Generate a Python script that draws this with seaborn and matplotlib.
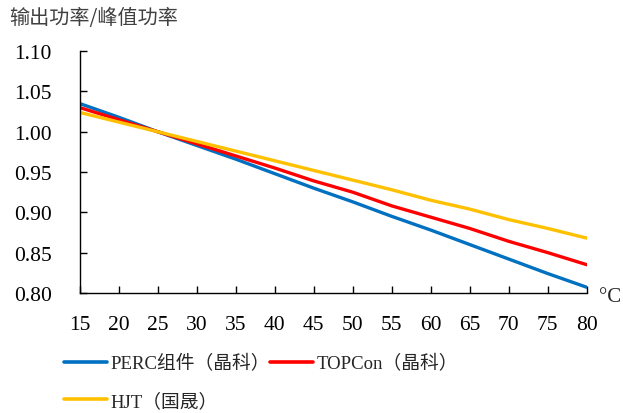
import numpy as np
import pandas as pd
import matplotlib
matplotlib.use('Agg')
import matplotlib.pyplot as plt
import seaborn as sns

## Data
temps   = [15, 20, 25, 30, 35, 40, 45, 50, 55, 60, 65, 70, 75, 80]
perc    = [1.035, 1.018, 1.000, 0.983, 0.966, 0.948, 0.930, 0.913, 0.895, 0.878, 0.860, 0.842, 0.824, 0.807]
topcon  = [1.030, 1.015, 1.000, 0.985, 0.970, 0.955, 0.939, 0.925, 0.908, 0.894, 0.880, 0.864, 0.850, 0.835]
hjt     = [1.024, 1.012, 1.000, 0.988, 0.976, 0.964, 0.952, 0.940, 0.928, 0.915, 0.904, 0.891, 0.880, 0.868]
labels  = ['PERC组件（晶科）', 'TOPCon（晶科）', 'HJT（国晟）']
colors  = ['#0070C0', '#FF0000', '#FFC000']
xticks  = list(range(15, 85, 5))
yticks  = [0.80, 0.85, 0.90, 0.95, 1.00, 1.05, 1.10]

df = pd.DataFrame({
    'temp':   temps * 3,
    'ratio':  perc + topcon + hjt,
    'module': [labels[0]] * len(temps) + [labels[1]] * len(temps) + [labels[2]] * len(temps),
})

sns.set_style('white')
fams = ['Liberation Serif', 'Noto Sans CJK SC', 'DejaVu Sans']
plt.rcParams['font.family'] = fams

fig = plt.figure(figsize=(6.23, 4.14), dpi=100)
ax = fig.add_axes([0.128, 0.290, 0.814, 0.584])

sns.lineplot(data=df, x='temp', y='ratio', hue='module', palette=colors,
             linewidth=2.4, ax=ax, legend=False)

ax.set_xlim(15, 80)
ax.set_ylim(0.80, 1.10)
ax.set_xticks(xticks)
ax.set_yticks(yticks)
ax.set_yticklabels(['%.2f' % v for v in yticks])
ax.tick_params(axis='both', direction='in', length=5, width=1, labelsize=15.5, colors='black')
ax.tick_params(axis='y', pad=20, left=True)
ax.tick_params(axis='x', pad=16, bottom=True)
ax.set_xlabel('')
ax.set_ylabel('')
for side in ['top', 'right']:
    ax.spines[side].set_visible(False)
for side in ['left', 'bottom']:
    ax.spines[side].set_color('black')
    ax.spines[side].set_linewidth(1)

fig.text(0.014, 0.955, '输出功率/峰值功率', fontsize=14.5, color='#404040',
         family=['Noto Sans CJK SC', 'DejaVu Sans'], va='center', ha='left')
fig.text(0.962, 0.281, '°C', fontsize=15, va='center', ha='left')

# row-major order for a 2-column legend: PERC, TOPCon / HJT
handles = [plt.Line2D([], [], color=c, linewidth=2.6) for c in colors]
order = [0, 2, 1]
fig.legend([handles[i] for i in order], [labels[i] for i in order],
           loc='upper left', bbox_to_anchor=(0.09, 0.16),
           ncol=2, frameon=False, handlelength=2.3,
           handletextpad=0.2, columnspacing=0.0, labelspacing=1.05,
           borderaxespad=0, prop={'family': fams, 'size': 13.5})

fig.savefig('out.png', dpi=100)
